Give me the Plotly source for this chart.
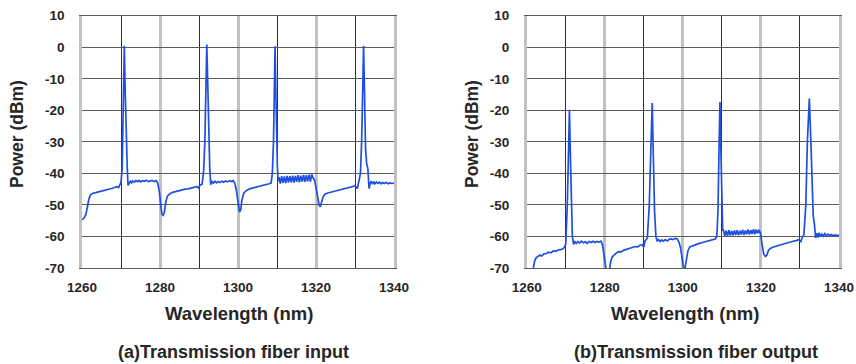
import plotly.graph_objects as go

# ---- data ----
wavelength_a = [
    1260.0, 1260.5, 1261.0, 1261.4, 1261.8, 1262.2, 1262.8, 1263.5, 1264.2, 1265.0,
    1265.7, 1266.4, 1267.1, 1267.8, 1268.5, 1269.0, 1269.4, 1269.7, 1270.0, 1270.3,
    1270.6, 1270.85, 1271.1, 1271.35, 1271.6, 1271.8, 1272.1, 1272.4, 1272.7, 1273.0,
    1273.4, 1273.8, 1274.2, 1274.6, 1275.0, 1275.5, 1276.0, 1276.5, 1277.0, 1277.5,
    1278.0, 1278.5, 1279.0, 1279.4, 1279.8, 1280.2, 1280.5, 1280.8, 1281.1, 1281.5,
    1281.9, 1282.5, 1283.2, 1284.0, 1284.8, 1285.6, 1286.4, 1287.2, 1288.0, 1288.8,
    1289.4, 1289.9, 1290.2, 1290.8, 1291.2, 1291.5, 1291.75, 1292.0, 1292.25, 1292.5,
    1292.75, 1293.0, 1293.3, 1293.7, 1294.1, 1294.5, 1294.9, 1295.3, 1295.8, 1296.3,
    1296.8, 1297.3, 1297.8, 1298.3, 1298.8, 1299.2, 1299.6, 1300.0, 1300.4, 1300.7,
    1301.0, 1301.5, 1302.2, 1303.0, 1304.0, 1305.0, 1306.0, 1307.0, 1308.0, 1308.5,
    1308.8, 1309.1, 1309.3, 1309.5, 1309.7, 1309.9, 1310.1, 1310.3,
    1310.5, 1310.85, 1311.2, 1311.55, 1311.9, 1312.25, 1312.6, 1312.95, 1313.3, 1313.65,
    1314.0, 1314.35, 1314.7, 1315.05, 1315.4, 1315.75, 1316.1, 1316.45, 1316.8, 1317.15,
    1317.5, 1317.85, 1318.2, 1318.55, 1318.9, 1319.25,
    1319.6, 1320.0, 1320.4, 1320.8, 1321.1, 1321.4, 1321.8, 1322.3, 1323.0, 1324.0,
    1325.0, 1326.0, 1327.0, 1328.0, 1329.0, 1330.0, 1330.6, 1331.0, 1331.4, 1331.7,
    1331.95, 1332.2, 1332.45, 1332.7, 1333.0, 1333.3, 1333.6, 1333.9,
    1334.2, 1334.5, 1334.8, 1335.1, 1335.5, 1335.9, 1336.3, 1336.7, 1337.1, 1337.5,
    1338.0, 1338.5, 1339.0, 1339.5, 1340.0,
]
power_a = [
    -54.6, -54.2, -53.0, -50.5, -48.0, -46.8, -46.3, -46.1, -45.9, -45.6,
    -45.5, -45.1, -44.9, -44.7, -44.4, -44.2, -44.5, -43.5, -42.8, -38.5,
    -20.0, 0.5, -15.0, -32.0, -38.0, -43.8, -43.2, -42.5, -43.0, -42.4,
    -42.8, -42.3, -42.6, -42.2, -42.7, -42.3, -42.5, -42.2, -42.6, -42.4,
    -42.2, -42.6, -42.3, -43.0, -45.5, -50.0, -53.0, -53.3, -52.5, -49.0,
    -47.2, -46.5, -46.0, -45.8, -45.5, -45.3, -45.0, -44.9, -44.6, -44.4,
    -44.2, -44.6, -43.8, -43.4, -39.0, -30.0, -15.0, 0.9, -12.0, -30.0,
    -38.0, -43.6, -42.6, -43.1, -42.5, -43.0, -42.6, -42.9, -42.5, -42.8,
    -42.4, -42.7, -42.3, -42.6, -42.3, -43.2, -45.5, -49.0, -52.3, -51.5,
    -48.5, -46.2, -45.4, -44.9, -44.6, -44.3, -44.0, -43.7, -43.3, -43.0,
    -40.0, -30.0, -15.0, 0.3, -14.0, -30.0, -38.0, -42.5,
    -41.2, -43.2, -40.9, -43.0, -41.0, -43.1, -40.8, -42.9, -40.9, -42.8,
    -40.7, -42.9, -40.8, -42.7, -40.6, -42.8, -40.7, -42.6, -40.5, -42.7,
    -40.6, -42.5, -40.4, -42.6, -40.3, -41.5,
    -42.0, -44.5, -47.5, -50.0, -50.6, -49.5, -47.5, -46.6, -46.2, -45.9,
    -45.6, -45.3, -45.0, -44.7, -44.4, -44.0, -44.8, -42.5, -40.0, -30.0,
    -12.0, 0.5, -15.0, -32.0, -37.0, -38.5, -44.8, -43.0,
    -42.5, -43.4, -42.6, -43.3, -42.7, -43.2, -42.8, -43.3, -42.9, -43.2,
    -42.9, -43.3, -43.0, -43.2, -43.1,
]

wavelength_b = [
    1260.0, 1261.0, 1261.7, 1262.0, 1262.4, 1262.9, 1263.4, 1263.9, 1264.4, 1265.0,
    1265.6, 1266.2, 1266.8, 1267.4, 1268.0, 1268.6, 1269.2, 1269.6, 1270.0, 1270.4,
    1270.7, 1270.95, 1271.2, 1271.45, 1271.7, 1272.0, 1272.3, 1272.7, 1273.1, 1273.5,
    1274.0, 1274.5, 1275.0, 1275.5, 1276.0, 1276.5, 1277.0, 1277.5, 1278.0, 1278.5,
    1279.0, 1279.4, 1279.8, 1280.1, 1280.4, 1281.2, 1281.5, 1281.9, 1282.4, 1283.0,
    1283.6, 1284.2, 1284.8, 1285.4, 1286.0, 1286.6, 1287.2, 1287.8, 1288.4, 1289.0,
    1289.6, 1290.0, 1290.3, 1290.9, 1291.4, 1291.8, 1292.15, 1292.45, 1292.75, 1293.1,
    1293.4, 1293.8, 1294.2, 1294.6, 1295.0, 1295.5, 1296.0, 1296.5, 1297.0, 1297.5,
    1298.0, 1298.5, 1299.0, 1299.4, 1299.8, 1300.2, 1300.5, 1300.9, 1301.3, 1301.8,
    1302.4, 1303.0, 1303.6, 1304.2, 1304.8, 1305.4, 1306.0, 1306.6, 1307.2, 1307.8,
    1308.3, 1308.7, 1309.0, 1309.3, 1309.5, 1309.7, 1309.95, 1310.2,
    1310.4, 1310.75, 1311.1, 1311.45, 1311.8, 1312.15, 1312.5, 1312.85, 1313.2, 1313.55,
    1313.9, 1314.25, 1314.6, 1314.95, 1315.3, 1315.65, 1316.0, 1316.35, 1316.7, 1317.05,
    1317.4, 1317.75, 1318.1, 1318.45, 1318.8, 1319.15, 1319.5,
    1319.9, 1320.3, 1320.7, 1321.1, 1321.5, 1321.9, 1322.4, 1323.0, 1324.0, 1325.0,
    1326.0, 1327.0, 1328.0, 1329.0, 1329.8, 1330.2, 1330.6, 1331.0, 1331.5, 1331.9,
    1332.4, 1332.8, 1333.1, 1333.4, 1333.7, 1334.0,
    1334.3, 1334.6, 1334.9, 1335.2, 1335.6, 1336.0, 1336.4, 1336.8, 1337.2, 1337.6,
    1338.0, 1338.5, 1339.0, 1339.5, 1340.0,
]
power_b = [
    -73.0, -72.0, -70.0, -68.0, -66.8, -66.3, -65.9, -66.2, -65.5, -65.4,
    -65.0, -65.2, -64.6, -64.7, -64.3, -64.2, -64.0, -63.5, -62.5, -50.0,
    -35.0, -19.8, -35.0, -52.0, -60.0, -62.5, -61.5, -62.2, -61.6, -62.1,
    -61.5, -62.0, -61.7, -62.2, -61.6, -61.9, -61.5, -61.9, -61.6, -61.8,
    -61.5, -62.5, -66.0, -69.0, -71.0, -71.0, -68.0, -66.5, -65.8, -65.2,
    -64.8, -64.9, -64.4, -64.2, -64.0, -63.8, -63.6, -63.2, -63.3, -62.8,
    -62.6, -63.4, -61.5, -60.5, -50.0, -35.0, -17.7, -35.0, -52.0, -60.0,
    -61.5, -61.0, -61.6, -61.1, -61.5, -61.0, -61.4, -60.9, -60.8, -61.0,
    -60.6, -60.7, -61.8, -63.5, -67.0, -70.0, -70.5, -67.0, -64.5, -63.3,
    -63.0, -62.6, -62.4, -62.2, -62.0, -61.8, -61.6, -61.4, -61.2, -61.0,
    -60.8, -60.0, -52.0, -30.0, -17.4, -30.0, -50.0, -58.0,
    -58.0, -59.9, -58.2, -59.8, -58.0, -59.7, -58.3, -59.6, -58.1, -59.5,
    -58.0, -59.6, -58.2, -59.4, -57.9, -59.5, -58.1, -59.3, -57.8, -59.4,
    -58.0, -59.2, -57.7, -59.3, -57.8, -59.0, -57.9,
    -59.0, -62.5, -65.5, -66.3, -66.0, -64.5, -63.8, -63.4, -63.0, -62.6,
    -62.2, -61.9, -61.6, -61.3, -61.0, -61.8, -60.2, -59.5, -50.0, -30.0,
    -16.3, -30.0, -45.0, -53.5, -56.0, -60.5,
    -59.0, -60.3, -58.8, -60.0, -59.2, -59.9, -59.1, -59.8, -59.3, -59.7,
    -59.4, -59.8, -59.5, -59.7, -59.6,
]

x_ticks = [1260, 1280, 1300, 1320, 1340]
y_ticks = [10, 0, -10, -20, -30, -40, -50, -60, -70]
x_title = "Wavelength (nm)"
y_title = "Power (dBm)"
captions = ["(a)Transmission fiber input", "(b)Transmission fiber output"]

# ---- styling ----
W, H = 856, 364
LINE = "#1f4fe0"
FONT = "Liberation Sans"
TXT = "#262626"

fig = go.Figure()
fig.add_trace(go.Scatter(x=wavelength_a, y=power_a, mode="lines",
                         line=dict(color=LINE, width=1.7), xaxis="x", yaxis="y",
                         showlegend=False))
fig.add_trace(go.Scatter(x=wavelength_b, y=power_b, mode="lines",
                         line=dict(color=LINE, width=1.7), xaxis="x2", yaxis="y2",
                         showlegend=False))

ydom = [1 - 268 / H, 1 - 15.7 / H]
xdoms = [[82 / W, 394 / W], [526.7 / W, 839 / W]]

def xaxis_cfg(dom, anchor):
    return dict(domain=dom, anchor=anchor, range=[1260, 1340], automargin=False,
                tickvals=x_ticks, ticktext=[str(v) for v in x_ticks],
                showgrid=True, gridcolor="#c2c2c2", gridwidth=2.5,
                minor=dict(tickvals=[1270, 1290, 1310, 1330], showgrid=True,
                           gridcolor="#303030", gridwidth=1),
                showline=True, linecolor="#5a5a5a", linewidth=1.3, mirror=True,
                zeroline=False, ticks="", ticklabelstandoff=7,
                tickfont=dict(family=FONT, size=13.5, color=TXT, weight="bold"))

def yaxis_cfg(anchor):
    return dict(domain=ydom, anchor=anchor, range=[-70, 10], automargin=False,
                tickvals=y_ticks, ticktext=[str(v) for v in y_ticks],
                showgrid=True, gridcolor="#5a5a5a", gridwidth=1.3,
                showline=True, linecolor="#c2c2c2", linewidth=2.5, mirror=True,
                zeroline=False, ticks="", ticklabelstandoff=12,
                tickfont=dict(family=FONT, size=13.5, color=TXT, weight="bold"))

annotations = []
for i, (cx_wl, cx_cap, cx_y) in enumerate([(239, 233, 17), (685, 696, 472)]):
    annotations.append(dict(text="<b>" + x_title + "</b>", x=cx_wl / W, y=1 - 313 / H,
                            xref="paper", yref="paper", showarrow=False,
                            xanchor="center", yanchor="middle",
                            font=dict(family=FONT, size=18.5, color=TXT)))
    annotations.append(dict(text="<b>" + captions[i] + "</b>", x=cx_cap / W, y=1 - 352 / H,
                            xref="paper", yref="paper", showarrow=False,
                            xanchor="center", yanchor="middle",
                            font=dict(family=FONT, size=18, color=TXT)))
    annotations.append(dict(text="<b>" + y_title + "</b>", x=cx_y / W, y=1 - 134 / H,
                            xref="paper", yref="paper", showarrow=False, textangle=-90,
                            xanchor="center", yanchor="middle",
                            font=dict(family=FONT, size=17.5, color=TXT)))

fig.update_layout(
    width=W, height=H, margin=dict(l=0, r=0, t=0, b=0),
    paper_bgcolor="white", plot_bgcolor="white",
    xaxis=xaxis_cfg(xdoms[0], "y"), yaxis=yaxis_cfg("x"),
    xaxis2=xaxis_cfg(xdoms[1], "y2"), yaxis2=yaxis_cfg("x2"),
    annotations=annotations,
)

fig.write_html("out.html", config={"displayModeBar": False},
               post_script="document.body.style.margin='0';document.body.style.padding='0';")
